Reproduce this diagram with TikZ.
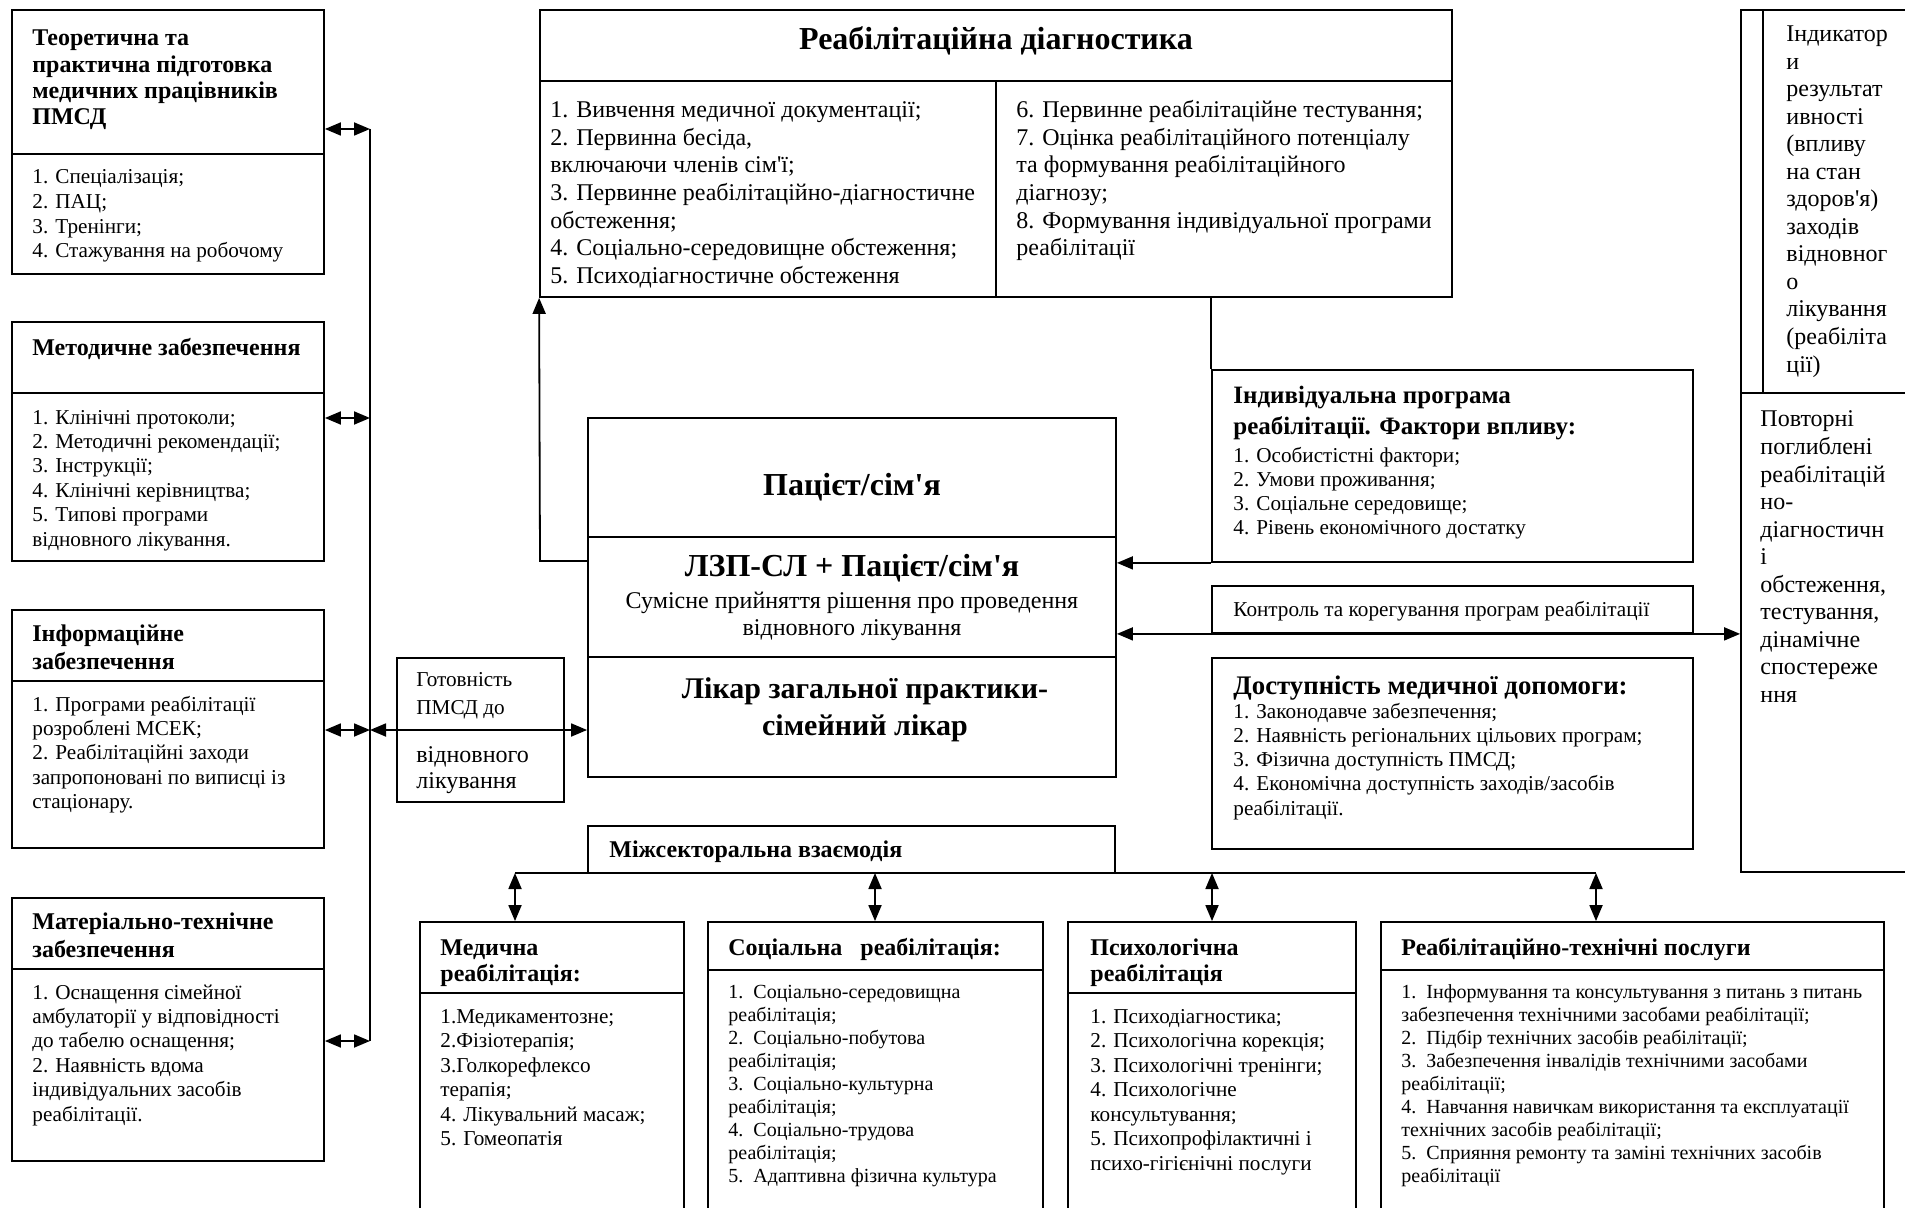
\documentclass[tikz,border=0pt]{standalone}
\usepackage{fontspec}
\setmainfont{Liberation Serif}[Ligatures=TeXOff]
\usetikzlibrary{arrows.meta,fit}

\tikzset{
  bx/.style={draw, line width=0.9pt, inner sep=0pt},
  ln/.style={line width=0.9pt},
  dar/.style={line width=0.9pt, {Triangle[length=8pt,width=6.5pt]}-{Triangle[length=8pt,width=6.5pt]}},
  sar/.style={line width=0.9pt, -{Triangle[length=8pt,width=6.5pt]}},
  tx/.style={inner sep=0pt, anchor=base west},
  tc/.style={inner sep=0pt, anchor=base},
  lt/.style={font=\bfseries\fontsize{12}{13.5}\selectfont},
  li/.style={font=\fontsize{10.6}{12}\selectfont},
  ti/.style={font=\fontsize{10}{11.5}\selectfont},
  tm/.style={font=\fontsize{12}{14}\selectfont},
  tb/.style={font=\bfseries\fontsize{16}{18}\selectfont},
  tbs/.style={font=\bfseries\fontsize{15}{17}\selectfont},
  tbm/.style={font=\bfseries\fontsize{12.5}{14}\selectfont},
  tbl/.style={font=\bfseries\fontsize{13.4}{15}\selectfont},
}
\newcommand\txl[6][]{\foreach \t [count=\i] in {#6}{\node[tx,#1] (#2-\i) at (#3,{#4+(\i-1)*#5}) {\t};}}

\begin{document}
\begin{tikzpicture}[x=0.5pt,y=-0.5pt]
\useasboundingbox (0,0) rectangle (1905,1208);

% ---------- left column boxes ----------
\node[bx, fit={(12,10) (324,274)}] (b1) {};
\node[bx, fit={(12,322) (324,561)}] (b2) {};
\node[bx, fit={(12,610) (324,848)}] (b3) {};
\node[bx, fit={(12,898) (324,1161)}] (b4) {};
\draw[ln] (b1.west |- 0,154) -- (b1.east |- 0,154);
\draw[ln] (b2.west |- 0,393) -- (b2.east |- 0,393);
\draw[ln] (b3.west |- 0,681) -- (b3.east |- 0,681);
\draw[ln] (b4.west |- 0,969) -- (b4.east |- 0,969);

\txl[lt]{t1}{32}{46}{26.3}{{Теоретична та},{практична підготовка},{медичних працівників},{ПМСД}}
\txl[li]{i1}{32}{184}{24.6}{{1. Спеціалізація;},{2. ПАЦ;},{3. Тренінги;},{4. Стажування на робочому}}
\txl[lt]{t2}{32}{356}{26}{{Методичне забезпечення}}
\txl[li]{i2}{32}{424}{24.4}{{1. Клінічні протоколи;},{2. Методичні рекомендації;},{3. Інструкції;},{4. Клінічні керівництва;},{5. Типові програми},{відновного лікування.}}
\txl[lt]{t3}{32}{641}{28}{{Інформаційне},{забезпечення}}
\txl[li]{i3}{32}{711}{24.4}{{1. Програми реабілітації},{розроблені МСЕК;},{2. Реабілітаційні заходи},{запропоновані по виписці із},{стаціонару.}}
\txl[lt]{t4}{32}{929}{28}{{Матеріально-технічне},{забезпечення}}
\txl[li]{i4}{32}{999}{24.4}{{1. Оснащення сімейної},{амбулаторії у відповідності},{до табелю оснащення;},{2. Наявність вдома},{індивідуальних засобів},{реабілітації.}}

% bus on the left
\coordinate (L1) at (370,129);
\coordinate (L2) at (370,418);
\coordinate (L3) at (370,730);
\coordinate (L4) at (370,1041);
\draw[ln] (L1) -- (L4);
\draw[dar] (b1.east |- L1) -- (L1);
\draw[dar] (b2.east |- L2) -- (L2);
\draw[dar] (b3.east |- L3) -- (L3);
\draw[dar] (b4.east |- L4) -- (L4);

% ---------- top box ----------
\node[bx, fit={(540,10) (1452,297)}] (tb) {};
\draw[ln] (tb.west |- 0,81) -- (tb.east |- 0,81);
\draw[ln] (996,81) -- (tb.south -| 996,0);
\node[tc,tb] (tbt) at (996,50) {Реабілітаційна діагностика};
\txl[tm]{tl}{550}{117.5}{27.7}{{1. Вивчення медичної документації;},{2. Первинна бесіда,},{включаючи членів сім'ї;},{3. Первинне реабілітаційно-діагностичне},{обстеження;},{4. Соціально-середовищне обстеження;},{5. Психодіагностичне обстеження}}
\txl[tm]{tr}{1016}{117.5}{27.7}{{6. Первинне реабілітаційне тестування;},{7. Оцінка реабілітаційного потенціалу},{та формування реабілітаційного},{діагнозу;},{8. Формування індивідуальної програми},{реабілітації}}

% ---------- central box ----------
\node[bx, fit={(588,418) (1116,777)}] (cb) {};
\draw[ln] (cb.west |- 0,537) -- (cb.east |- 0,537);
\draw[ln] (cb.west |- 0,657) -- (cb.east |- 0,657);
\node[tc,tb] (c1) at (852,495) {Пацієт/сім'я};
\node[tc,tb] (c2) at (852,576) {ЛЗП-СЛ + Пацієт/сім'я};
\node[tc,tm] (c3) at (852,608) {Сумісне прийняття рішення про проведення};
\node[tc,tm] (c4) at (852,635) {відновного лікування};
\node[tc,tbs] (c5) at (865,698) {Лікар загальної практики-};
\node[tc,tbs] (c6) at (865,735) {сімейний лікар};

% ---------- readiness box ----------
\node[bx, fit={(397,658) (564,802)}] (gb) {};
\txl[li]{g1}{416}{686}{28}{{Готовність},{ПМСД до}}
\txl[tm]{g2}{416}{762}{26}{{відновного},{лікування}}
\draw[dar] (L3) -- (cb.west |- L3);

% arrow to the top box
\coordinate (T1) at (540,561);
\draw[sar] (cb.west |- T1) -- (T1) -- (tb.south west);

% ---------- right-middle boxes ----------
\node[bx, fit={(1212,370) (1693,562)}] (ind) {};
\node[bx, fit={(1212,586) (1693,633)}] (kon) {};
\node[bx, fit={(1212,658) (1693,849)}] (dos) {};
\draw[ln] (tb.south -| ind.north west) -- (ind.north west);
\draw[sar] (ind.south west) -- (cb.east |- ind.south west);
\txl[tbm]{n1}{1233}{404}{31}{{Індивідуальна програма},{реабілітації. Фактори впливу:}}
\txl[li]{n2}{1233}{462}{24.3}{{1. Особистістні фактори;},{2. Умови проживання;},{3. Соціальне середовище;},{4. Рівень економічного достатку}}
\node[tx,li] (k1) at (1233,616) {Контроль та корегування програм реабілітації};
\txl[tbl]{d1}{1233}{694}{26}{{Доступність медичної допомоги:}}
\txl[li]{d2}{1233}{718}{24.3}{{1. Законодавче забезпечення;},{2. Наявність регіональних цільових програм;},{3. Фізична доступність ПМСД;},{4. Економічна доступність заходів/засобів},{реабілітації.}}

% ---------- right tall box ----------
\node[bx, fit={(1741,10) (1935,872)}] (rb) {};
\draw[ln] (rb.west |- 0,393) -- (rb.east |- 0,393);
\draw[ln] (1763,10) -- (1763,393);
\draw[dar] (cb.east |- kon.south) -- (rb.west |- kon.south);
\txl[tm]{r1}{1786}{42}{27.5}{{Індикатор},{и},{результат},{ивності},{(впливу},{на стан},{здоров'я)},{заходів},{відновног},{о},{лікування},{(реабіліта},{ції)}}
\txl[tm]{r2}{1760}{427}{27.5}{{Повторні},{поглиблені},{реабілітацій},{но-},{діагностичн},{і},{обстеження,},{тестування,},{дінамічне},{спостереже},{ння}}

% ---------- intersectoral ----------
\node[bx, fit={(588,826) (1115,873)}] (mz) {};
\node[tx,lt] (mzt) at (609,857) {Міжсекторальна взаємодія};
\coordinate (B1) at (515,873);
\coordinate (B2) at (875,873);
\coordinate (B3) at (1212,873);
\coordinate (B4) at (1596,873);
\draw[ln] (B1) -- (B4);

% ---------- bottom boxes ----------
\node[bx, fit={(420,922) (684,1240)}] (med) {};
\node[bx, fit={(708,922) (1043,1240)}] (soc) {};
\node[bx, fit={(1068,922) (1356,1240)}] (psy) {};
\node[bx, fit={(1381,922) (1884,1240)}] (rt) {};
\draw[ln] (med.west |- 0,993) -- (med.east |- 0,993);
\draw[ln] (soc.west |- 0,970) -- (soc.east |- 0,970);
\draw[ln] (psy.west |- 0,993) -- (psy.east |- 0,993);
\draw[ln] (rt.west |- 0,970) -- (rt.east |- 0,970);
\draw[dar] (B1) -- (B1 |- med.north);
\draw[dar] (B2) -- (B2 |- soc.north);
\draw[dar] (B3) -- (B3 |- psy.north);
\draw[dar] (B4) -- (B4 |- rt.north);

\txl[lt]{m1}{440}{955}{26.5}{{Медична},{реабілітація:}}
\txl[li]{m2}{440}{1023}{24.5}{{1.Медикаментозне;},{2.Фізіотерапія;},{3.Голкорефлексо},{терапія;},{4. Лікувальний масаж;},{5. Гомеопатія}}
\txl[lt]{s1}{728}{955}{26.5}{{Соціальна\ \ \ реабілітація:}}
\txl[ti]{s2}{728}{998}{23}{{1.\ \ Соціально-середовищна},{реабілітація;},{2.\ \ Соціально-побутова},{реабілітація;},{3.\ \ Соціально-культурна},{реабілітація;},{4.\ \ Соціально-трудова},{реабілітація;},{5.\ \ Адаптивна фізична культура}}
\txl[lt]{p1}{1090}{955}{26.5}{{Психологічна},{реабілітація}}
\txl[li]{p2}{1090}{1023}{24.5}{{1. Психодіагностика;},{2. Психологічна корекція;},{3. Психологічні тренінги;},{4. Психологічне},{консультування;},{5. Психопрофілактичні і},{психо-гігієнічні послуги}}
\txl[lt]{q1}{1401}{955}{26.5}{{Реабілітаційно-технічні послуги}}
\txl[ti]{q2}{1401}{998}{23}{{1.\ \ Інформування та консультування з питань з питань},{забезпечення технічними засобами реабілітації;},{2.\ \ Підбір технічних засобів реабілітації;},{3.\ \ Забезпечення інвалідів технічними засобами},{реабілітації;},{4.\ \ Навчання навичкам використання та експлуатації},{технічних засобів реабілітації;},{5.\ \ Сприяння ремонту та заміні технічних засобів},{реабілітації}}
\end{tikzpicture}
\end{document}
